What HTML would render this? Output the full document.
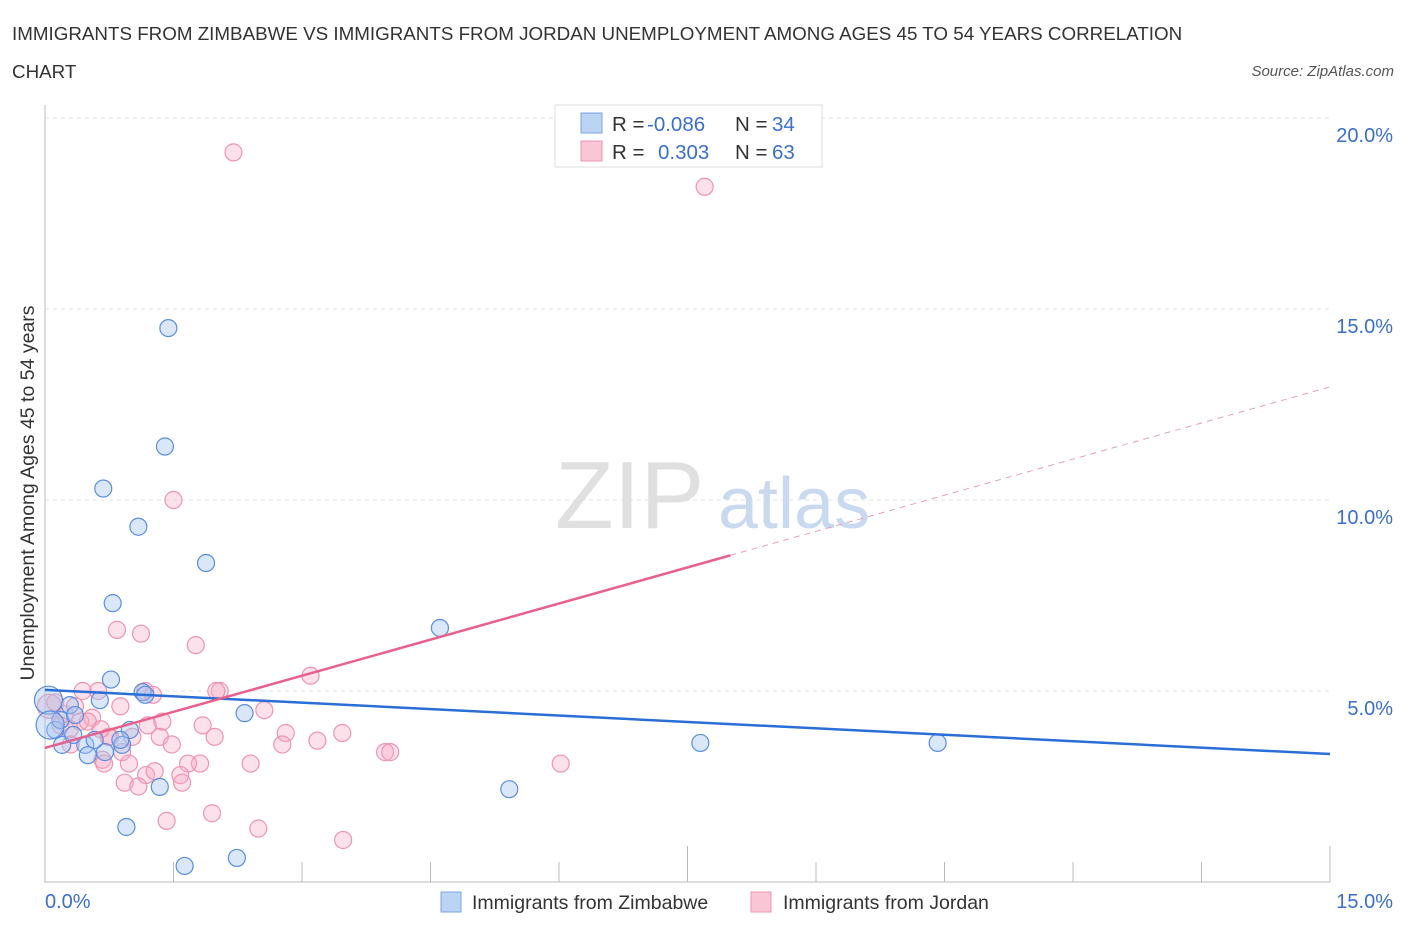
<!DOCTYPE html>
<html><head><meta charset="utf-8">
<style>
body{margin:0;background:#fff;font-family:"Liberation Sans",sans-serif;}
svg text{font-family:"Liberation Sans",sans-serif;}
</style></head><body>
<svg id="chart" width="1406" height="930" xmlns="http://www.w3.org/2000/svg">
<text x="12" y="40" font-size="18.8" fill="#333">IMMIGRANTS FROM ZIMBABWE VS IMMIGRANTS FROM JORDAN UNEMPLOYMENT AMONG AGES 45 TO 54 YEARS CORRELATION</text>
<text x="12" y="78" font-size="18.8" fill="#333">CHART</text>
<text x="1394" y="76" font-size="15" fill="#555" text-anchor="end" font-style="italic">Source: ZipAtlas.com</text>
<text transform="translate(34,493) rotate(-90)" font-size="19.5" fill="#333" text-anchor="middle">Unemployment Among Ages 45 to 54 years</text>
<g id="grid"></g>
<text x="555" y="528" font-size="96" fill="#ddd" font-family="Liberation Serif" opacity="0.9">ZIP</text>
<text x="718" y="528" font-size="72" fill="#c9d9ef">atlas</text>
<g id="marks"></g>
<g id="lines"></g>
<g>
<rect x="555" y="105" width="267" height="62" fill="#fff" stroke="#ddd"/>
<rect x="581" y="113" width="21" height="20" fill="#bcd4f4" stroke="#7aa6e6"/>
<rect x="581" y="141" width="21" height="20" fill="#f9c6d6" stroke="#ee94b0"/>
<text x="612" y="131" font-size="20.5" fill="#333">R = </text><text x="647" y="131" font-size="20.5" fill="#3a6fcc">-0.086</text>
<text x="735" y="131" font-size="20.5" fill="#333">N = </text><text x="772" y="131" font-size="20.5" fill="#3a6fcc">34</text>
<text x="612" y="159" font-size="20.5" fill="#333">R = </text><text x="658" y="159" font-size="20.5" fill="#3a6fcc">0.303</text>
<text x="735" y="159" font-size="20.5" fill="#333">N = </text><text x="772" y="159" font-size="20.5" fill="#3a6fcc">63</text>
</g>
<g>
<rect x="441" y="892" width="20" height="20" fill="#bcd4f4" stroke="#7aa6e6"/>
<text x="472" y="909" font-size="19.5" fill="#333">Immigrants from Zimbabwe</text>
<rect x="751" y="892" width="20" height="20" fill="#f9c6d6" stroke="#ee94b0"/>
<text x="783" y="909" font-size="19.5" fill="#333">Immigrants from Jordan</text>
</g>
</svg>
<script>
const xTickLabels=["0.0%","15.0%"];
const yTicks=[5,10,15,20];
const yTickLabels=["5.0%","10.0%","15.0%","20.0%"];
const zimX=[1.44,1.40,0.68,1.09,1.88,0.79,4.61,0.77,1.14,2.33,0.04,0.64,0.29,0.12,0.2,0.47,0.5,0.7,0.9,0.99,0.33,1.34,0.95,1.63,2.24,5.42,7.65,10.42,1.17,0.18,0.58,0.88,0.06,0.35];
const zimY=[14.5,11.4,10.3,9.3,8.35,7.3,6.65,5.3,4.97,4.42,4.76,4.76,4.63,3.98,3.59,3.59,3.32,3.4,3.59,3.98,3.85,2.49,1.44,0.42,0.63,2.43,3.64,3.64,4.9,4.24,3.72,3.72,4.11,4.37];
const jorX=[2.2,7.7,1.5,0.84,1.12,1.76,3.1,2.04,1.17,0.62,0.44,1.26,2.56,0.88,0.05,0.23,0.41,0.55,0.18,0.29,1.2,1.37,1.84,1.02,0.76,1.34,1.98,2.81,3.18,3.47,2.77,1.48,0.74,3.97,4.03,6.02,2.4,1.81,1.67,0.98,0.67,0.69,1.18,1.58,1.28,0.93,1.6,1.09,1.95,1.42,2.49,3.48,0.5,0.35,0.65,0.9,0.12,0.3,2.0];
const jorY=[19.1,18.2,10.0,6.6,6.5,6.2,5.4,5.0,5.0,5.0,5.0,4.9,4.5,4.6,4.6,4.4,4.2,4.3,4.1,4.0,4.1,4.2,4.1,3.8,3.8,3.8,3.8,3.9,3.7,3.9,3.6,3.6,3.8,3.4,3.4,3.1,3.1,3.1,3.1,3.1,3.2,3.1,2.8,2.8,2.9,2.6,2.6,2.5,1.8,1.6,1.4,1.1,4.2,4.6,4.0,3.4,4.7,3.6,5.0];
const zimTrend=[5.03,3.35];
const jorTrend=[3.51,12.96];
const jorSolidEnd=8.0;
const X=v=>45+v/15*1285, Y=v=>882-v/5*191;
const NS="http://www.w3.org/2000/svg";
function mk(t,a,p){const e=document.createElementNS(NS,t);for(const k in a)e.setAttribute(k,a[k]);p.appendChild(e);return e;}
const grid=document.getElementById('grid'),marks=document.getElementById('marks'),lines=document.getElementById('lines');
yTicks.forEach((t,i)=>{
 const g=mk('line',{x1:45,x2:1330,y1:Y(t),y2:Y(t),stroke:'#e3e3e3','stroke-dasharray':'4,4'},grid);
 
 
 const l=mk('text',{x:1393,y:Y(t)+24,'font-size':20,fill:'#3a6fcc','text-anchor':'end'},grid);l.textContent=yTickLabels[i];
 
 
});
const ax=mk('line',{x1:45,x2:45,y1:105,y2:883,stroke:'#bbb'},grid);


const bx=mk('line',{x1:45,x2:1330,y1:882,y2:882,stroke:'#bbb'},grid);


for(let i=0;i<=10;i++){const x=45+i*128.5;const t=mk('line',{x1:x,x2:x,y1:882,y2:i%5==0?846:862,stroke:'#bbb'},grid);
 
 }
[[0,45,'start'],[15,1393,'end']].forEach((d,i)=>{const t=mk('text',{x:d[1],y:908,'font-size':20,fill:'#3a6fcc','text-anchor':d[2]},grid);t.textContent=xTickLabels[i];
 
 });
jorX.forEach((v,i)=>{const c=mk('circle',{cx:X(v),cy:Y(jorY[i]),r:v<0.1?12:8.5,fill:'rgba(246,170,195,0.35)',stroke:'#ee94b0','stroke-width':1.2},marks);
 
 });
zimX.forEach((v,i)=>{const c=mk('circle',{cx:X(v),cy:Y(zimY[i]),r:v<0.1?14:8.5,fill:'rgba(160,195,240,0.4)',stroke:'#5a8ee0','stroke-width':1.2},marks);
 
 });
const zl=mk('line',{x1:X(0),y1:Y(zimTrend[0]),x2:X(15),y2:Y(zimTrend[1]),stroke:'#2a6fd6','stroke-width':2.5},lines);


const jy=x=>jorTrend[0]+(jorTrend[1]-jorTrend[0])*x/15;
const jl=mk('line',{x1:X(0),y1:Y(jy(0)),x2:X(jorSolidEnd),y2:Y(jy(jorSolidEnd)),stroke:'#e8608c','stroke-width':2.5},lines);


const jd=mk('line',{x1:X(jorSolidEnd),y1:Y(jy(jorSolidEnd)),x2:X(15),y2:Y(jy(15)),stroke:'#e8a0b8','stroke-width':1,'stroke-dasharray':'6,5'},lines);


</script>
</body></html>
